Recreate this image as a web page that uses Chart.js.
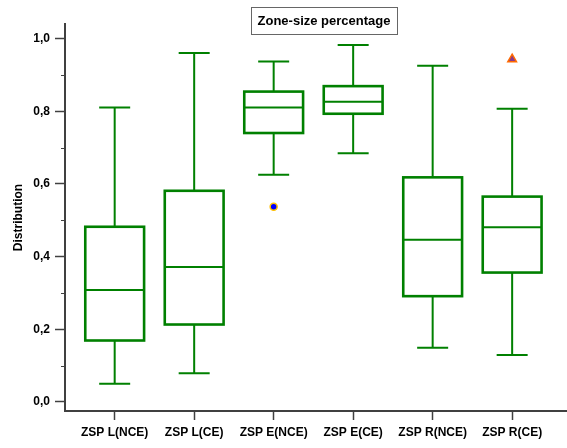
<!DOCTYPE html>
<html>
<head>
<meta charset="utf-8">
<script src="https://cdn.jsdelivr.net/npm/chart.js@4/dist/chart.umd.min.js"></script>
<style>
  html, body { margin: 0; padding: 0; background: #fff; }
  #wrap { width: 567px; height: 448px; }
</style>
</head>
<body>
<div id="wrap"><canvas id="c" width="567" height="448"></canvas></div>
<script>
const categories = ['ZSP L(NCE)', 'ZSP L(CE)', 'ZSP E(NCE)', 'ZSP E(CE)', 'ZSP R(NCE)', 'ZSP R(CE)'];
const whiskerLow  = [0.050, 0.079, 0.625, 0.684, 0.149, 0.129];
const q1          = [0.169, 0.213, 0.740, 0.793, 0.291, 0.356];
const median      = [0.308, 0.371, 0.810, 0.826, 0.446, 0.481];
const q3          = [0.482, 0.581, 0.854, 0.869, 0.618, 0.565];
const whiskerHigh = [0.810, 0.960, 0.937, 0.982, 0.925, 0.807];
const outlierCircleCat = [2];
const outlierCircleVal = [0.537];
const outlierTriangleCat = [5];
const outlierTriangleVal = [0.943];
const yMajorTicks = [0, 0.2, 0.4, 0.6, 0.8, 1.0];
const yMinorTicks = [0.1, 0.3, 0.5, 0.7, 0.9];
const chartTitle = 'Zone-size percentage';
const yTitle = 'Distribution';

const GREEN = '#008000';
const AXIS = '#404040';

const boxPlugin = {
  id: 'boxes',
  beforeDatasetsDraw(chart) {
    const ctx = chart.ctx;
    const xs = chart.scales.x, ys = chart.scales.y;
    const unit = xs.getPixelForValue(1) - xs.getPixelForValue(0);
    const halfBox = unit * 0.37;
    const halfCap = unit * 0.195;
    ctx.save();
    ctx.strokeStyle = GREEN;
    ctx.lineCap = 'butt';
    for (let i = 0; i < categories.length; i++) {
      const cx = xs.getPixelForValue(i);
      const yLo = ys.getPixelForValue(whiskerLow[i]);
      const yQ1 = ys.getPixelForValue(q1[i]);
      const yMed = ys.getPixelForValue(median[i]);
      const yQ3 = ys.getPixelForValue(q3[i]);
      const yHi = ys.getPixelForValue(whiskerHigh[i]);
      ctx.lineWidth = 2;
      ctx.beginPath();
      ctx.moveTo(cx, yHi); ctx.lineTo(cx, yQ3);
      ctx.moveTo(cx, yQ1); ctx.lineTo(cx, yLo);
      ctx.moveTo(cx - halfCap, yHi); ctx.lineTo(cx + halfCap, yHi);
      ctx.moveTo(cx - halfCap, yLo); ctx.lineTo(cx + halfCap, yLo);
      ctx.moveTo(cx - halfBox, yMed); ctx.lineTo(cx + halfBox, yMed);
      ctx.stroke();
      ctx.lineWidth = 2.6;
      ctx.strokeRect(cx - halfBox, yQ3, halfBox * 2, yQ1 - yQ3);
    }
    ctx.restore();
  },
  afterDraw(chart) {
    const ctx = chart.ctx;
    const ys = chart.scales.y;
    ctx.save();
    ctx.strokeStyle = AXIS;
    ctx.lineWidth = 1.2;
    const left = chart.chartArea.left;
    ctx.beginPath();
    yMinorTicks.forEach(v => {
      const y = Math.round(ys.getPixelForValue(v)) + 0.5;
      ctx.moveTo(left - 4, y); ctx.lineTo(left, y);
    });
    ctx.stroke();
    ctx.font = 'bold 13px "Liberation Sans", Arial, sans-serif';
    const bx = 251, by = 7.5, bw = 146, bh = 27;
    ctx.fillStyle = '#fff';
    ctx.fillRect(bx, by, bw, bh);
    ctx.strokeStyle = '#666';
    ctx.lineWidth = 1;
    ctx.strokeRect(bx + 0.5, by, bw, bh);
    ctx.fillStyle = '#000';
    ctx.textAlign = 'center';
    ctx.textBaseline = 'middle';
    ctx.fillText(chartTitle, bx + bw / 2, by + bh / 2 + 0.5);
    ctx.restore();
  }
};

new Chart(document.getElementById('c'), {
  type: 'scatter',
  data: {
    datasets: [
      {
        data: outlierCircleCat.map((c, i) => ({ x: c, y: outlierCircleVal[i] })),
        pointStyle: 'circle',
        pointRadius: 3.5,
        backgroundColor: '#0000ff',
        borderColor: '#ffc000',
        borderWidth: 1.5
      },
      {
        data: outlierTriangleCat.map((c, i) => ({ x: c, y: outlierTriangleVal[i] })),
        pointStyle: 'triangle',
        pointRadius: 5,
        backgroundColor: '#8b3a8b',
        borderColor: '#ff6a00',
        borderWidth: 1.5
      }
    ]
  },
  options: {
    responsive: false,
    animation: false,
    layout: { autoPadding: false, padding: { top: 24, right: 0, left: 0, bottom: 0 } },
    plugins: {
      legend: { display: false },
      tooltip: { enabled: false },
      title: { display: false }
    },
    scales: {
      x: {
        type: 'linear',
        min: -0.625,
        max: 5.69,
        afterBuildTicks: (s) => { s.ticks = categories.map((c, i) => ({ value: i })); },
        afterFit: (s) => { s.height = 37; s.paddingLeft = 0; s.paddingRight = 0; },
        ticks: {
          autoSkip: false,
          maxRotation: 0,
          padding: 5,
          color: '#000',
          font: { family: '"Liberation Sans", Arial, sans-serif', size: 12, weight: 'bold' },
          callback: (v) => categories[v]
        },
        grid: {
          drawOnChartArea: false,
          drawTicks: true,
          tickLength: 9,
          tickColor: AXIS,
          tickWidth: 1.5
        },
        border: { display: true, color: AXIS, width: 2 }
      },
      y: {
        min: -0.025,
        max: 1.04,
        afterBuildTicks: (s) => { s.ticks = yMajorTicks.map(v => ({ value: v })); },
        afterFit: (s) => { s.width = 65; s.paddingTop = 0; s.paddingBottom = 0; },
        ticks: {
          padding: 5,
          color: '#000',
          font: { family: '"Liberation Sans", Arial, sans-serif', size: 12, weight: 'bold' },
          callback: (v) => Number(v).toFixed(1).replace('.', ',')
        },
        grid: {
          drawOnChartArea: false,
          drawTicks: true,
          tickLength: 10,
          tickColor: AXIS,
          tickWidth: 1.5
        },
        border: { display: true, color: AXIS, width: 2 },
        title: {
          display: true,
          text: yTitle,
          color: '#000',
          padding: { top: 11, bottom: 0 },
          font: { family: '"Liberation Sans", Arial, sans-serif', size: 12, weight: 'bold' }
        }
      }
    }
  },
  plugins: [boxPlugin]
});
</script>
</body>
</html>
